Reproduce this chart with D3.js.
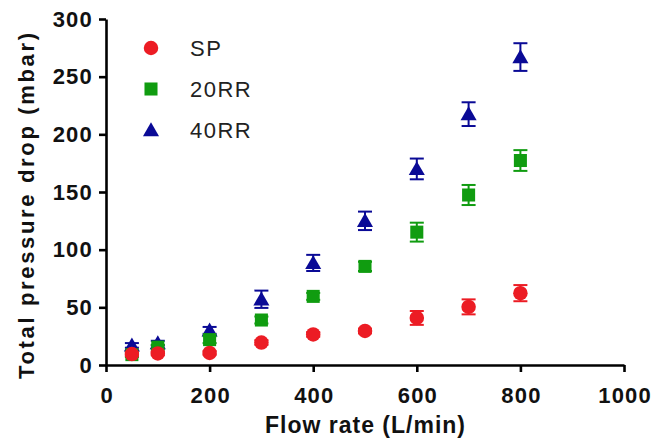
<!DOCTYPE html>
<html>
<head>
<meta charset="utf-8">
<script src="https://cdn.jsdelivr.net/npm/d3@7"></script>
<style>
  body { margin: 0; background: #fff; }
  text { font-family: Arial, "Liberation Sans", sans-serif; }
</style>
</head>
<body>
<div id="main"></div>
<script>
const flow = [50, 100, 200, 300, 400, 500, 600, 700, 800];
const sp = [9.5, 10, 10.5, 19.5, 26.5, 29.5, 40.8, 50.4, 62.3];
const spErr = [1.5, 1.5, 1.5, 2, 2, 2, 6, 6.5, 7];
const rr20 = [9, 15.5, 22, 39, 59.5, 85.5, 115.2, 147.4, 177.3];
const rr20Err = [2, 2, 3, 3, 3, 4, 8.2, 8.7, 9];
const rr40 = [17, 19, 30, 57, 88.5, 125, 170, 217.5, 267];
const rr40Err = [2, 2, 3, 7.5, 7, 8, 9, 10.3, 12];
const xTicks = [0, 200, 400, 600, 800, 1000];
const yTicks = [0, 50, 100, 150, 200, 250, 300];
const seriesNames = ["SP", "20RR", "40RR"];

function drawPlot() {
    const w = 666;
    const h = 438;
    const colors = {SP: "#ec1c24", "20RR": "#109c10", "40RR": "#0a0a96"};
    const shapes = {SP: d3.symbolCircle, "20RR": d3.symbolSquare, "40RR": d3.symbolTriangle};
    const sizes = {SP: 165, "20RR": 170, "40RR": 112};

    const svg = d3.select("#main").append("svg").attr("width", w).attr("height", h);

    const xScale = d3.scaleLinear().domain([0, 1000]).range([106, 624]);
    const yScale = d3.scaleLinear().domain([0, 300]).range([365, 19]);

    const xAxis = d3.axisBottom(xScale).tickValues(xTicks).tickFormat(d3.format("d"))
        .tickSize(7).tickSizeOuter(0);
    const yAxis = d3.axisLeft(yScale).tickValues(yTicks).tickFormat(d3.format("d"))
        .tickSize(7).tickSizeOuter(0);

    const gx = svg.append("g").attr("transform", "translate(0,365)").call(xAxis);
    const gy = svg.append("g").attr("transform", "translate(106,0)").call(yAxis);

    [gx, gy].forEach(g => {
        g.select(".domain").attr("stroke", "#000").attr("stroke-width", 2.6);
        g.selectAll(".tick line").attr("stroke", "#000").attr("stroke-width", 2.6);
        g.selectAll(".tick text")
            .attr("fill", "#111")
            .style("font-size", "22px")
            .style("font-weight", "bold")
            .style("letter-spacing", "1.2px")
            .style("font-family", "Arial, 'Liberation Sans', sans-serif");
    });
    gx.selectAll(".tick text").attr("dy", 0).attr("y", 38).attr("dx", 0.6);
    gy.selectAll(".tick text").attr("x", -13);

    svg.append("text")
        .attr("transform", "translate(34,206) rotate(-90)")
        .style("text-anchor", "middle")
        .style("font-size", "22px")
        .style("font-weight", "bold")
        .attr("textLength", 346)
        .attr("fill", "#111")
        .text("Total pressure drop (mbar)");

    svg.append("text")
        .attr("x", 365)
        .attr("y", 433)
        .style("text-anchor", "middle")
        .style("font-size", "23px")
        .style("font-weight", "bold")
        .attr("textLength", 200)
        .attr("fill", "#111")
        .text("Flow rate (L/min)");

    const series = [
        {name: "40RR", vals: rr40, errs: rr40Err},
        {name: "20RR", vals: rr20, errs: rr20Err},
        {name: "SP", vals: sp, errs: spErr}
    ];

    series.forEach(s => {
        const pts = flow.map((f, i) => ({x: f, y: s.vals[i], e: s.errs[i]}));
        const g = svg.append("g").attr("class", "series");
        const c = colors[s.name];
        const capW = 7;

        // error bars
        const eb = g.selectAll(".err").data(pts).enter().append("g").attr("class", "err")
            .attr("stroke", c).attr("stroke-width", 2).attr("fill", "none");
        eb.append("line")
            .attr("x1", d => xScale(d.x)).attr("x2", d => xScale(d.x))
            .attr("y1", d => yScale(d.y + d.e)).attr("y2", d => yScale(d.y - d.e));
        eb.append("line")
            .attr("x1", d => xScale(d.x) - capW).attr("x2", d => xScale(d.x) + capW)
            .attr("y1", d => yScale(d.y + d.e)).attr("y2", d => yScale(d.y + d.e));
        eb.append("line")
            .attr("x1", d => xScale(d.x) - capW).attr("x2", d => xScale(d.x) + capW)
            .attr("y1", d => yScale(d.y - d.e)).attr("y2", d => yScale(d.y - d.e));

        // markers
        const sym = d3.symbol().type(shapes[s.name]).size(sizes[s.name]);
        g.selectAll(".pt").data(pts).enter().append("path").attr("class", "pt")
            .attr("d", sym)
            .attr("transform", d => "translate(" + xScale(d.x) + "," + (yScale(d.y) + (s.name === "40RR" ? 1.5 : 0)) + ")")
            .attr("fill", c);
    });

    // legend
    const legend = svg.append("g").attr("class", "legend");
    seriesNames.forEach((n, i) => {
        const ly = 48 + i * 41;
        legend.append("path")
            .attr("d", d3.symbol().type(shapes[n]).size(sizes[n])())
            .attr("transform", "translate(151," + (ly + (n === "40RR" ? 1.5 : 0)) + ")")
            .attr("fill", colors[n]);
        legend.append("text")
            .attr("x", 190)
            .attr("y", ly + 8)
            .style("font-size", "22px")
            .style("letter-spacing", "1.5px")
            .attr("fill", "#222")
            .text(n);
    });
}

drawPlot();
</script>
</body>
</html>
